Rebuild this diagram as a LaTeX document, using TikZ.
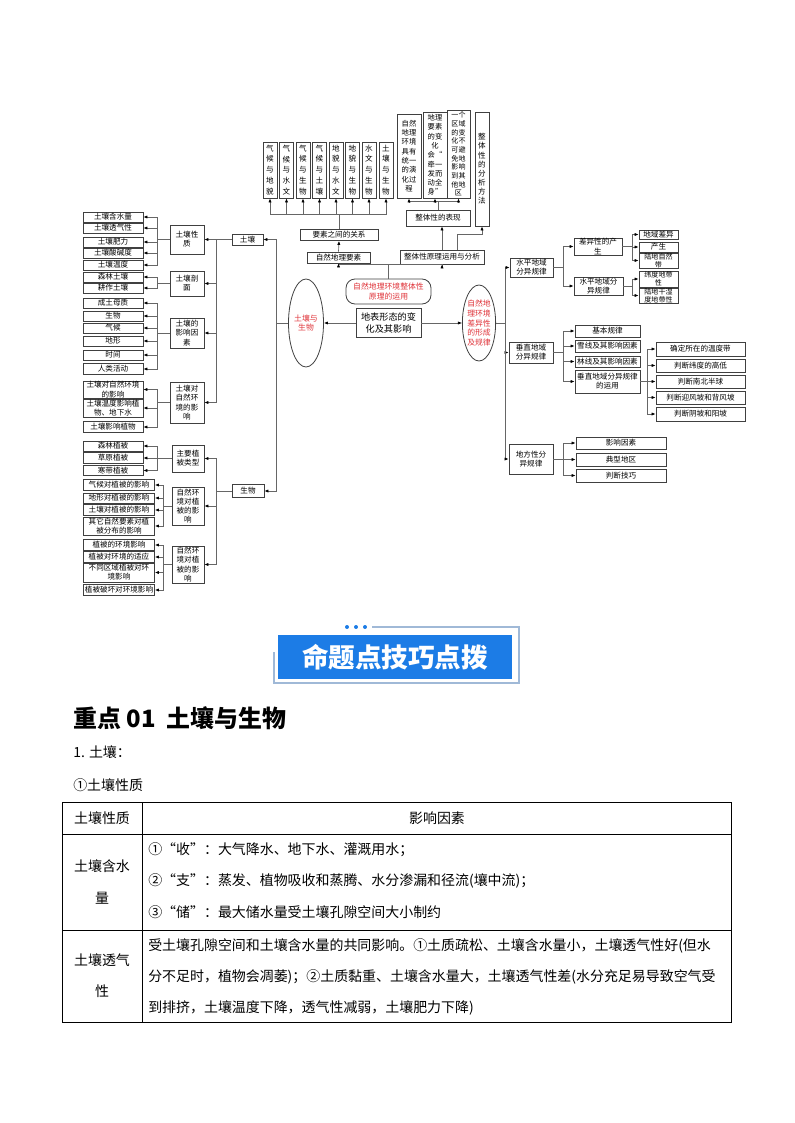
\documentclass[tikz,border=0pt]{standalone}
\usepackage{fontspec}
\setmainfont{Noto Sans CJK SC}
\usetikzlibrary{arrows.meta, shapes.geometric, calc}

\newlength{\pxl}
\setlength{\pxl}{0.26458mm}
\definecolor{mapred}{RGB}{224,52,58}
\definecolor{bannerblue}{RGB}{28,124,230}
\definecolor{framegray}{RGB}{160,185,215}

\begin{document}
\begin{tikzpicture}[x=0.26458mm, y=-0.26458mm,
    % Define the styles for the map boxes
    mapbox/.style={draw=black!75, line width=0.6pt, fill=white, inner sep=0pt,
        align=center, font=\fontsize{5.7}{6.9}\selectfont},
    sz/.style 2 args={minimum width=#1\pxl, minimum height=#2\pxl},
    vtext/.style={font=\fontsize{5.7}{8.2}\selectfont},
    tight/.style={font=\fontsize{5.3}{5.8}\selectfont},
    redbub/.style={ellipse, draw=black!75, line width=0.6pt, fill=white, inner sep=0pt,
        align=center, text=mapred, font=\fontsize{5.9}{7.2}\selectfont},
    % Define the style for the connectors
    conn/.style={draw=black!60, line width=0.5pt, -{Latex[length=3pt,width=2.4pt,color=black]}},
    tabtext/.style={inner sep=0pt, font=\fontsize{10.5}{12}\selectfont}
]
\useasboundingbox (0,0) rectangle (794,1123);

% Left leaves: soil
\foreach \n/\y/\h/\txt in {
    a1/217/10/{土壤含水量}, a2/228/10/{土壤透气性}, a3/242/10/{土壤肥力},
    a4/253/10/{土壤酸碱度}, a5/265/10/{土壤温度},
    b1/277/10/{森林土壤}, b2/288/10/{耕作土壤},
    c1/303/10/{成土母质}, c2/316/10/{生物}, c3/328/10/{气候},
    c4/341/10/{地形}, c5/355/10/{时间}, c6/369/11/{人类活动},
    d1/389.5/17/{土壤对自然环境\\的影响}, d2/408/18/{土壤温度影响植\\物、地下水},
    d3/427/11/{土壤影响植物},
    e1/446/10/{森林植被}, e2/458/11/{草原植被}, e3/470.5/10/{寒带植被}}
    \node[mapbox, sz={60}{\h}] (\n) at (113,\y) {\txt};

% Left leaves: vegetation
\foreach \n/\y/\h/\txt in {
    f1/485/11/{气候对植被的影响}, f2/498/10/{地形对植被的影响},
    f3/510/11/{土壤对植被的影响}, f4/526/18/{其它自然要素对植\\被分布的影响},
    g1/545/11/{植被的环境影响}, g2/557/11/{植被对环境的适应},
    g3/572.5/19/{不同区域植被对环\\境影响}, g4/590/11/{植被破坏对环境影响}}
    \node[mapbox, sz={71}{\h}] (\n) at (119,\y) {\txt};

% Second level
\node[mapbox, sz={34}{29}] (xz) at (187,239.5) {土壤性\\质};
\node[mapbox, sz={34}{25}] (pm) at (187,283.5) {土壤剖\\面};
\node[mapbox, sz={34}{30}] (ys) at (187,333) {土壤的\\影响因\\素};
\node[mapbox, sz={34}{41}] (yx) at (187,402.5) {土壤对\\自然环\\境的影\\响};
\node[mapbox, sz={32}{27}] (lx) at (188,458.5) {主要植\\被类型};
\node[mapbox, sz={32}{38}] (zy1) at (188,506) {自然环\\境对植\\被的影\\响};
\node[mapbox, sz={32}{37}] (zy2) at (188,564.5) {自然环\\境对植\\被的影\\响};

\node[mapbox, sz={31}{11}] (tr) at (247.5,239.5) {土壤};
\node[mapbox, sz={32}{13}] (sw) at (248,491) {生物};

% Centre
\node[redbub, sz={35}{88}] (tsw) at (306,323) {土壤与\\生物};
\node[mapbox, sz={65}{29}, font=\fontsize{6.9}{9}\selectfont] (zx) at (388.5,323) {地表形态的变\\化及其影响};
\node[mapbox, sz={85}{25}, rounded corners=9\pxl, text=mapred,
    font=\fontsize{5.9}{7.5}\selectfont] (zt) at (388.5,291.5) {自然地理环境整体性\\原理的运用};
\node[mapbox, sz={63}{11}] (ys2) at (338.5,257.5) {自然地理要素};
\node[mapbox, sz={78}{11}] (gx) at (339,235) {要素之间的关系};
\node[mapbox, sz={84}{14}] (zf) at (442,257) {整体性原理运用与分析};
\node[mapbox, sz={64}{16}] (bx) at (438,218) {整体性的表现};

% Top vertical boxes
\foreach \i/\x/\txt in {1/270/{气\\候\\与\\地\\貌}, 2/286.5/{气\\候\\与\\水\\文},
    3/303/{气\\候\\与\\生\\物}, 4/319.5/{气\\候\\与\\土\\壤}, 5/336/{地\\貌\\与\\水\\文},
    6/352.5/{地\\貌\\与\\生\\物}, 7/369/{水\\文\\与\\生\\物}, 8/386/{土\\壤\\与\\生\\物}}
    \node[mapbox, vtext, sz={14}{56}] (v\i) at (\x,170) {\txt};

\node[mapbox, sz={24}{84}, font=\fontsize{5.5}{7}\selectfont] (p1) at (409,156)
    {自然\\地理\\环境\\具有\\统一\\的演\\化过\\程};
\node[mapbox, sz={24}{86}, font=\fontsize{5.5}{7}\selectfont] (p2) at (435,155)
    {地理\\要素\\的变\\化\\会“\\牵一\\发而\\动全\\身”};
\node[mapbox, sz={23}{88}, font=\fontsize{5.3}{6.5}\selectfont] (p3) at (458.5,154)
    {一个\\区域\\的变\\化不\\可避\\免地\\影响\\到其\\他地\\区};
\node[mapbox, sz={14}{114}, font=\fontsize{5.7}{6.9}\selectfont] (p4) at (482,169)
    {整\\体\\性\\的\\分\\析\\方\\法};

% Right side
\node[redbub, sz={30}{76}] (cy) at (479,323) {自然地\\理环境\\差异性\\的形成\\及规律};
\node[mapbox, sz={43}{19}] (sp) at (531.5,267.5) {水平地域\\分异规律};
\node[mapbox, sz={44}{21}] (cz) at (531,352.5) {垂直地域\\分异规律};
\node[mapbox, sz={44}{30}] (df) at (531,459) {地方性分\\异规律};
\node[mapbox, sz={48}{17}] (cs) at (598,246.5) {差异性的产\\生};
\node[mapbox, sz={49}{18}] (sf) at (598.5,286) {水平地域分\\异规律};

\node[mapbox, sz={39}{9}] (k1) at (658.5,234.5) {地域差异};
\node[mapbox, sz={39}{10}] (k2) at (658.5,247) {产生};
\node[mapbox, tight, sz={39}{15}] (k3) at (658.5,260.5) {陆地自然\\带};
\node[mapbox, tight, sz={39}{16}] (k4) at (658.5,279) {纬度地带\\性};
\node[mapbox, tight, sz={39}{15}] (k5) at (658.5,295.5) {陆地干湿\\度地带性};

\node[mapbox, sz={65}{12}] (m1) at (607.5,331) {基本规律};
\node[mapbox, sz={65}{12}] (m2) at (607.5,346) {雪线及其影响因素};
\node[mapbox, sz={65}{11}] (m3) at (607.5,361.5) {林线及其影响因素};
\node[mapbox, sz={65}{23}] (m4) at (607.5,381.5) {垂直地域分异规律\\的运用};

\node[mapbox, sz={89}{14}] (n1) at (700.5,349) {确定所在的温度带};
\node[mapbox, sz={89}{13}] (n2) at (700.5,365.5) {判断纬度的高低};
\node[mapbox, sz={89}{13}] (n3) at (700.5,381.5) {判断南北半球};
\node[mapbox, sz={89}{13}] (n4) at (700.5,397.5) {判断迎风坡和背风坡};
\node[mapbox, sz={89}{14}] (n5) at (700.5,414) {判断阴坡和阳坡};

\node[mapbox, sz={90}{12}] (q1) at (621,443) {影响因素};
\node[mapbox, sz={90}{13}] (q2) at (621,459.5) {典型地区};
\node[mapbox, sz={90}{13}] (q3) at (621,475.5) {判断技巧};

% Connectors, left
\foreach \c in {a1,a2,a3,a4,a5} \draw[conn] (xz.west) -- ++(-12,0) |- (\c.east);
\foreach \c in {b1,b2} \draw[conn] (pm.west) -- ++(-12,0) |- (\c.east);
\foreach \c in {c1,c2,c3,c4,c5,c6} \draw[conn] (ys.west) -- ++(-12,0) |- (\c.east);
\foreach \c in {d1,d2,d3} \draw[conn] (yx.west) -- ++(-12,0) |- (\c.east);
\foreach \c in {e1,e2,e3} \draw[conn] (lx.west) -- ++(-14,0) |- (\c.east);
\foreach \c in {f1,f2,f3,f4} \draw[conn] (zy1.west) -- ++(-8,0) |- (\c.east);
\foreach \c in {g1,g2,g3,g4} \draw[conn] (zy2.west) -- ++(-8,0) |- (\c.east);
\foreach \c in {xz,pm,ys,yx} \draw[conn] (tr.west) -- ++(-15,0) |- (\c.east);
\foreach \c in {lx,zy1,zy2} \draw[conn] (sw.west) -- ++(-15,0) |- (\c.east);
\foreach \c in {tr,sw} \draw[conn] (tsw.west) -- ++(-12,0) |- (\c.east);

% Connectors, centre and top
\draw[conn] (zx.west) -- (tsw.east);
\draw[conn] (zx.east) -- (cy.west);
\foreach \c in {ys2,zf} \draw[conn] (zt.north) -- ++(0,-14) -| (\c.south);
\draw[conn] (ys2.north) -- (gx.south);
\foreach \i in {1,...,8} \draw[conn] (gx.north) -- ++(0,-15) -| (v\i.south);
\foreach \c in {p1,p2,p3} \draw[conn] (bx.north) -- ++(0,-8) -| (\c.south);
\draw[conn] (zf.north) -- (zf.north |- bx.south);
\draw[conn] ($(zf.north)+(15,0)$) -- ++(0,-15) -| (p4.south);

% Connectors, right
\foreach \c in {sp,cz,df} \draw[conn] (cy.east) -- ++(9,0) |- (\c.west);
\foreach \c in {cs,sf} \draw[conn] (sp.east) -- ++(10,0) |- (\c.west);
\foreach \c in {k1,k2,k3} \draw[conn] (cs.east) -- ++(10,0) |- (\c.west);
\foreach \c in {k4,k5} \draw[conn] (sf.east) -- ++(9,0) |- (\c.west);
\foreach \c in {m1,m2,m3,m4} \draw[conn] (cz.east) -- ++(10,0) |- (\c.west);
\foreach \c in {n1,n2,n3,n4,n5} \draw[conn] (m4.east) -- ++(7,0) |- (\c.west);
\foreach \c in {q1,q2,q3} \draw[conn] (df.east) -- ++(10,0) |- (\c.west);

% Banner
\draw[framegray, line width=0.8pt] (372,627) -- (519,627) -- (519,683) -- (274,683) -- (274,652);
\foreach \x in {347,356,365} \fill[bannerblue] (\x,627) circle[radius=1.5pt];
\node[fill=bannerblue, text=white, inner sep=0pt, sz={234}{44},
    font=\fontsize{20}{22}\selectfont\bfseries] (banner) at (395,657) {命题点技巧点拨};

% Heading and text
\node[anchor=west, inner sep=0pt, font=\fontsize{18}{20}\selectfont\bfseries] (title) at (73,718) {重点 01\ \ 土壤与生物};
\node[anchor=west, tabtext] (sec1) at (73,752) {1. 土壤：};
\node[anchor=west, tabtext] (sec2) at (73,785) {①土壤性质};

% Table
\draw[line width=0.7pt] (62,802) rectangle (731,1022);
\draw[line width=0.7pt] (62,834) -- (731,834) (62,930) -- (731,930) (142,802) -- (142,1022);
\node[tabtext] (h1) at (102,818) {土壤性质};
\node[tabtext] (h2) at (437,818) {影响因素};
\node[tabtext, align=center, font=\fontsize{10.5}{23.5}\selectfont] (r1) at (102,882) {土壤含水\\量};
\node[tabtext, anchor=west] (r1a) at (148,850) {①“收”：大气降水、地下水、灌溉用水；};
\node[tabtext, anchor=west] (r1b) at (148,881) {②“支”：蒸发、植物吸收和蒸腾、水分渗漏和径流(壤中流)；};
\node[tabtext, anchor=west] (r1c) at (148,912) {③“储”：最大储水量受土壤孔隙空间大小制约};
\node[tabtext, align=center, font=\fontsize{10.5}{23.5}\selectfont] (r2) at (102,976) {土壤透气\\性};
\node[tabtext, anchor=west] (r2a) at (148,946) {受土壤孔隙空间和土壤含水量的共同影响。①土质疏松、土壤含水量小，土壤透气性好(但水};
\node[tabtext, anchor=west] (r2b) at (148,977) {分不足时，植物会凋萎)；②土质黏重、土壤含水量大，土壤透气性差(水分充足易导致空气受};
\node[tabtext, anchor=west] (r2c) at (148,1008) {到排挤，土壤温度下降，透气性减弱，土壤肥力下降)};

\end{tikzpicture}
\end{document}
